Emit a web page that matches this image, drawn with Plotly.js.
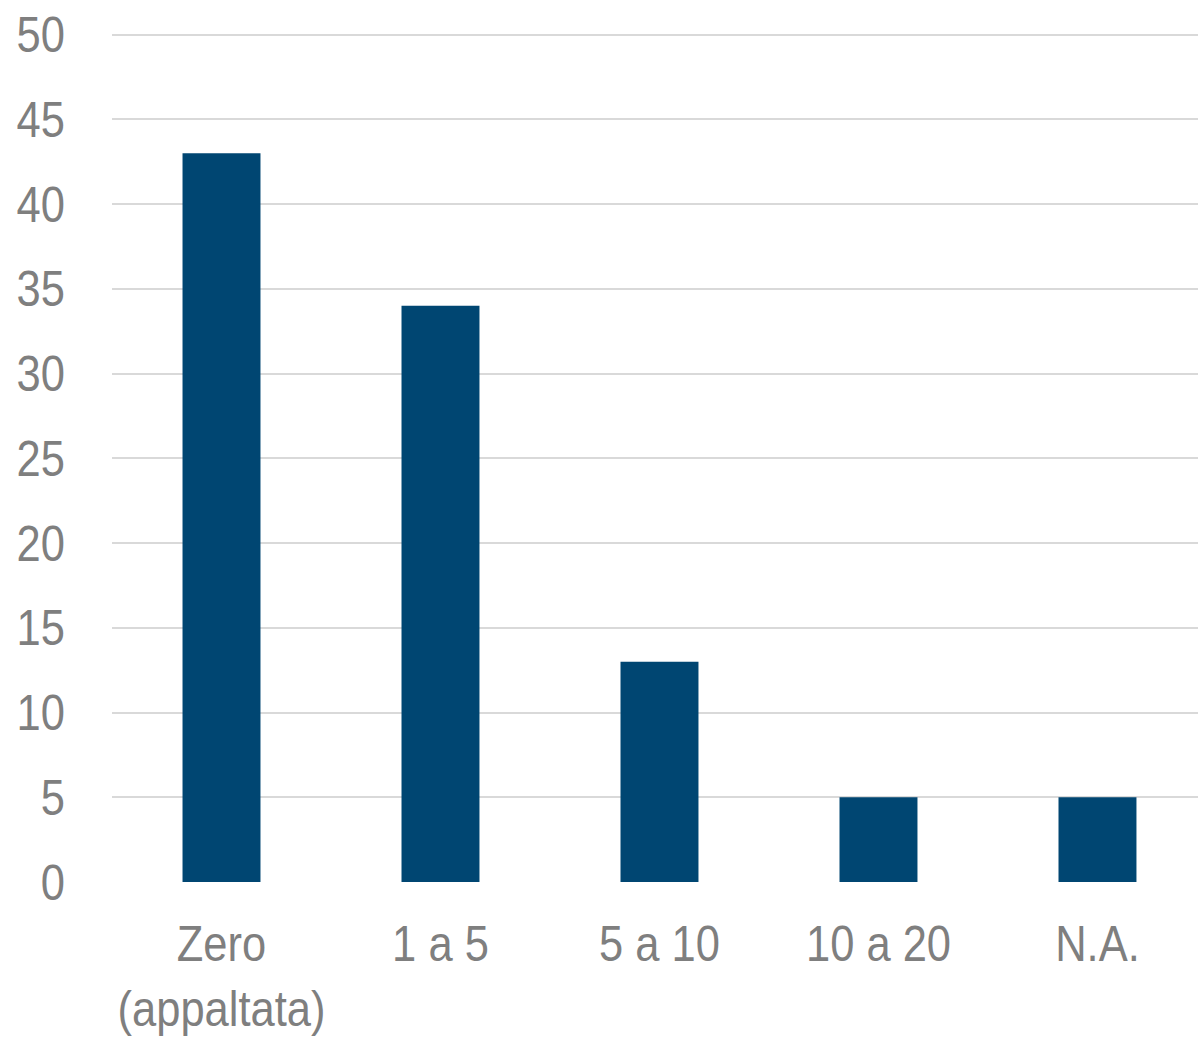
<!DOCTYPE html>
<html>
<head>
<meta charset="utf-8">
<script src="https://cdn.plot.ly/plotly-3.0.1.min.js"></script>
<style>html,body{margin:0;padding:0;background:#fff;}#chart{width:1198px;height:1037px;}</style>
</head>
<body>
<div id="chart"></div>
<script>
const categories = ["Zero<br>(appaltata)", "1 a 5", "5 a 10", "10 a 20", "N.A."];
const values = [43, 34, 13, 5, 5];
const yTicks = [0, 5, 10, 15, 20, 25, 30, 35, 40, 45, 50];

const font = {family: "'Liberation Sans Narrow', 'Arial Narrow', 'Liberation Sans', Arial, sans-serif", size: 50, color: "#7f7f7f"};

// narrow the (regular-width) font to mimic Arial Narrow
function narrow() {
  const els = document.querySelectorAll("#chart .xtick text, #chart .ytick text");
  els.forEach(t => {
    const lines = t.querySelectorAll("tspan.line");
    const targets = lines.length ? Array.from(lines) : [t];
    targets.forEach(el => {
      if (el.getAttribute("lengthAdjust")) return;
      const w = el.getComputedTextLength();
      if (w > 0) {
        el.setAttribute("textLength", (w * 0.87).toFixed(1));
        el.setAttribute("lengthAdjust", "spacingAndGlyphs");
      }
    });
  });
}

Plotly.newPlot("chart", [{
  type: "bar",
  x: categories,
  y: values,
  marker: {color: "#004672", line: {width: 0}},
  hoverinfo: "skip"
}], {
  width: 1198, height: 1037,
  margin: {l: 112, r: 0, t: 33, b: 155},
  paper_bgcolor: "#fff", plot_bgcolor: "#fff",
  bargap: 0.644,
  showlegend: false,
  font: font,
  xaxis: {
    type: "category",
    range: [-0.5, 4.459],
    showgrid: false, zeroline: false, showline: false,
    ticks: "", tickfont: font, ticklabelstandoff: 28
  },
  yaxis: {
    range: [0, 50.1], tickvals: yTicks, ticktext: yTicks.map(String),
    showgrid: true, gridcolor: "#d9d9d9", gridwidth: 2,
    zeroline: false, showline: false,
    ticks: "", tickfont: font, ticklabelstandoff: 46
  }
}, {staticPlot: true}).then(narrow);
</script>
</body>
</html>
